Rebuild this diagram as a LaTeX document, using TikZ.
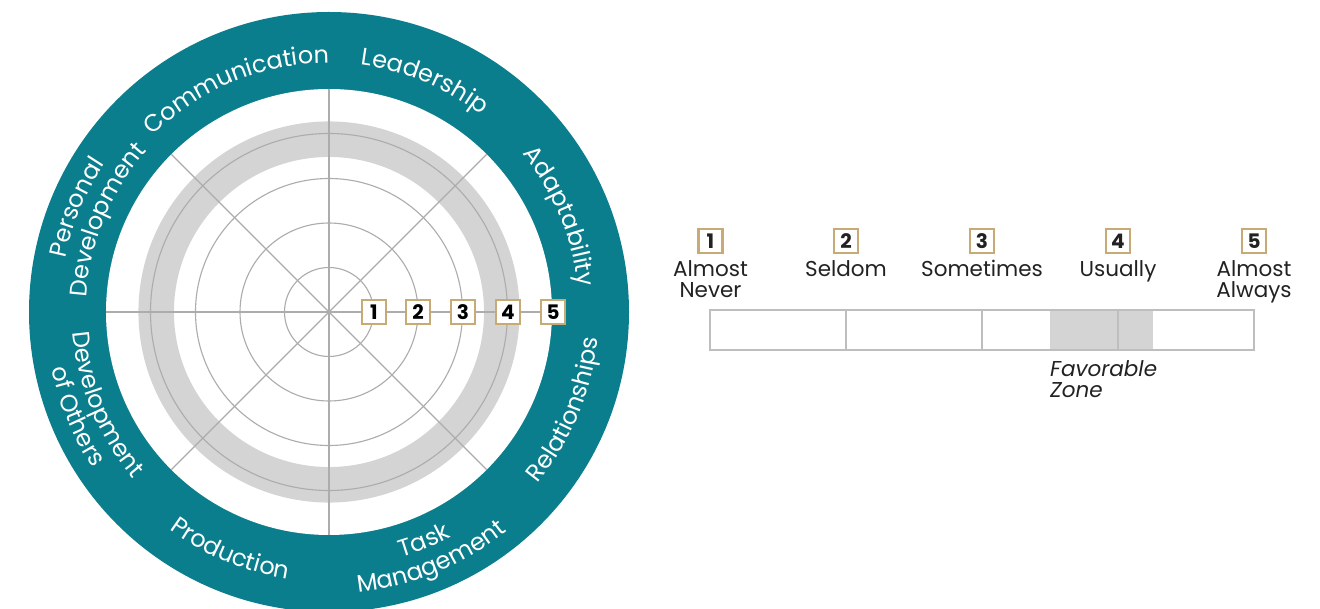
\documentclass[tikz,border=0pt]{standalone}
\usepackage{fontspec}
\setmainfont{Poppins}
\usetikzlibrary{decorations.text,calc}
\definecolor{tealring}{RGB}{10,126,140}
\definecolor{bandgray}{RGB}{212,212,212}
\definecolor{linegray}{RGB}{172,172,172}
\definecolor{tan}{RGB}{200,170,116}
\definecolor{bargray}{RGB}{190,190,190}
\definecolor{txt}{RGB}{34,34,34}
\newcommand\rf{\fontsize{24pt}{28pt}\selectfont\color{white}}
\newcommand\ringtop[3]{%
  \path[decorate,decoration={text along path,text align=center,text={|\rf|#3}}]
    (c) ++({#1+44}:#2) arc[start angle={#1+44}, end angle={#1-44}, radius=#2];}
\newcommand\ringbot[3]{%
  \path[decorate,decoration={text along path,text align=center,text={|\rf|#3}}]
    (c) ++({#1-44}:#2) arc[start angle={#1-44}, end angle={#1+44}, radius=#2];}
\tikzset{
  numbox/.style={draw=tan, line width=2.8pt, fill=white, minimum size=24pt, inner sep=0pt,
    font=\bfseries\fontsize{20pt}{20pt}\selectfont},
  ringline/.style={draw=linegray, line width=1.1pt},
  legtxt/.style={anchor=base, text=txt, font=\fontsize{21.5pt}{24pt}\selectfont, inner sep=0pt},
  barline/.style={draw=bargray, line width=1.5pt}
}
\begin{document}
\begin{tikzpicture}[x=1pt,y=1pt]
\useasboundingbox (0,0) rectangle (1320,608);
\coordinate (c) at (329,296);
% rings
\fill[tealring] (c) circle[radius=300];
\fill[white] (c) circle[radius=223];
\draw[bandgray, line width=35.5pt] (c) circle[radius=172.8];
\foreach \r in {44.5,89,133.5,178.5}
  \draw[ringline] (c) circle[radius=\r];
\foreach \a in {0,45,...,315}
  \coordinate (s\a) at ($(c)+(\a:223)$);
\foreach \a in {0,45,...,315}
  \draw[ringline] (c) -- (s\a);
% ring boxes
\foreach \i/\r in {1/45,2/89,3/134,4/179,5/224}
  \node[numbox, text=black] (rb\i) at ($(c)+(\r,0)$) {\i};
% labels on ring
\ringtop{67.5}{249}{Leadership}
\ringtop{112.5}{249}{Communication}
\ringtop{22.5}{250}{Adaptability}
\ringtop{157.5}{269}{Personal}
\ringtop{157.5}{243}{Development}
\ringbot{-22.5}{270}{Relationships}
\ringbot{-112.5}{270}{Production}
\ringbot{-67.5}{256}{Task}
\ringbot{-67.5}{282}{Management}
\ringbot{-157.5}{257}{Development}
\ringbot{-157.5}{283}{of Others}
% legend
\foreach \i/\x in {1/710.5,2/846,3/982,4/1118,5/1254}
  \node[numbox, text=txt] (lb\i) at (\x,367) {\i};
\node[legtxt] (l1a) at (710.5,331.3) {Almost};
\node[legtxt] (l1b) at (710.5,310) {Never};
\node[legtxt] (l2a) at (846,331.3) {Seldom};
\node[legtxt] (l3a) at (982,331.3) {Sometimes};
\node[legtxt] (l4a) at (1118,331.3) {Usually};
\node[legtxt] (l5a) at (1254,331.3) {Almost};
\node[legtxt] (l5b) at (1254,310) {Always};
\fill[bandgray] (1050,258) rectangle (1153,298);
\draw[barline] (710,258) rectangle (1254,298);
\foreach \x in {846,982,1118}
  \draw[barline] (\x,258) -- (\x,298);
\node[legtxt, anchor=base west, font=\itshape\fontsize{21.5pt}{24pt}\selectfont] (fz1) at (1050,231.3) {Favorable};
\node[legtxt, anchor=base west, font=\itshape\fontsize{21.5pt}{24pt}\selectfont] (fz2) at (1050,210) {Zone};
\end{tikzpicture}
\end{document}
